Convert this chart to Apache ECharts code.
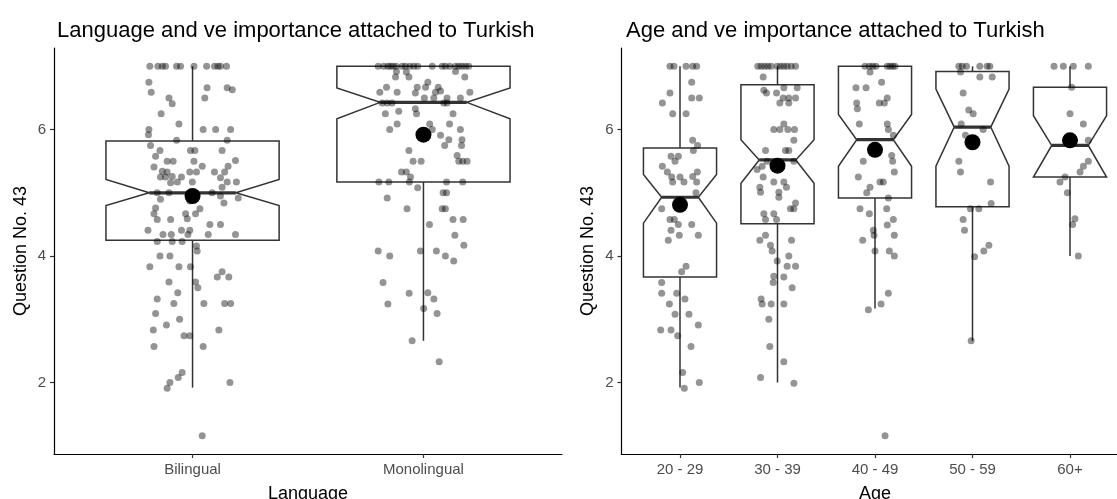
<!DOCTYPE html>
<html><head><meta charset="utf-8">
<script src="https://cdn.jsdelivr.net/npm/echarts@6/dist/echarts.min.js"></script>
<style>html,body{margin:0;padding:0;background:#fff;}#chart{width:1117px;height:499px;}</style>
</head><body><div id="chart"></div>
<script>
const languageCategories = ['Bilingual', 'Monolingual'];
const ageCategories = ['20 - 29', '30 - 39', '40 - 49', '50 - 59', '60+'];
const yTicks = [2, 4, 6];
const leftTitle = 'Language and ve importance attached to Turkish';
const rightTitle = 'Age and ve importance attached to Turkish';
const yName = 'Question No. 43';
const leftXName = 'Language';
const rightXName = 'Age';

// [lowerWhisker, Q1, notchLower, median, notchUpper, Q3, upperWhisker]
const languageBoxStats = [
  [1.92, 4.25, 4.80, 5.00, 5.21, 5.82, 7.00],
  [2.66, 5.17, 6.17, 6.43, 6.66, 7.00, 7.00]
];
const languageMeans = [4.95, 5.92];
const ageBoxStats = [
  [1.92, 3.67, 4.52, 4.93, 5.29, 5.71, 7.00],
  [2.00, 4.51, 5.15, 5.52, 5.84, 6.71, 7.00],
  [3.17, 4.92, 5.42, 5.84, 6.24, 7.00, 7.00],
  [2.66, 4.78, 5.42, 6.04, 6.64, 6.92, 7.00],
  [4.00, 5.25, 5.25, 5.75, 6.22, 6.67, 7.00]
];
const ageMeans = [4.81, 5.43, 5.68, 5.80, 5.83];

// jittered observations: [horizontal jitter (category units), value]
const bilingualPoints = [
  [-0.185,7],[-0.150,7],[-0.131,7],[-0.117,7],[-0.069,7],[-0.052,7],[0.006,7],[0.061,7],[0.095,7],[0.110,7],[0.121,7],[0.147,7],
  [-0.189,6.75],[-0.179,6.59],[-0.102,6.50],[-0.088,6.41],[-0.136,6.25],[0.063,6.66],[0.150,6.66],[0.172,6.63],[0.053,6.50],
  [-0.059,6.09],[-0.189,6.00],[-0.191,5.92],[0.046,6.00],[0.100,6.00],[0.165,6.00],[-0.069,5.83],[0.150,5.83],[-0.182,5.75],
  [-0.141,5.67],[-0.009,5.67],[0.010,5.67],[0.128,5.67],[-0.160,5.58],[-0.110,5.50],[-0.084,5.50],[0.006,5.50],[0.186,5.51],
  [-0.167,5.41],[0.042,5.42],[0.154,5.42],[-0.131,5.34],[-0.110,5.33],[-0.012,5.33],[0.017,5.33],[0.095,5.33],[0.139,5.33],
  [-0.139,5.25],[-0.117,5.25],[-0.088,5.26],[-0.048,5.25],[-0.066,5.17],[-0.095,5.16],[-0.001,5.17],[0.121,5.24],[0.150,5.17],
  [0.190,5.17],[0.128,5.09],[-0.153,5.00],[-0.102,5.00],[0.085,5.00],[0.121,4.95],[0.198,4.92],[-0.139,4.90],[0.136,4.84],
  [-0.012,4.87],[-0.160,4.76],[-0.167,4.67],[-0.030,4.67],[0.013,4.67],[0.032,4.75],[-0.153,4.58],[-0.095,4.58],[-0.023,4.59],
  [0.075,4.50],[0.121,4.50],[-0.193,4.41],[-0.128,4.34],[-0.092,4.34],[-0.048,4.41],[-0.012,4.41],[-0.020,4.34],[0.068,4.34],
  [0.186,4.34],[-0.153,4.23],[-0.088,4.23],[-0.045,4.23],[0.017,4.16],[0.020,4.08],[-0.141,4.00],[-0.098,4.00],[-0.185,3.83],
  [-0.059,3.83],[-0.009,3.83],[0.128,3.75],[0.107,3.67],[0.157,3.67],
  [-0.102,3.59],[-0.064,3.42],[0.013,3.59],[0.023,3.50],[-0.153,3.32],[-0.081,3.25],[0.049,3.25],[0.139,3.25],[0.165,3.25],
  [-0.160,3.09],[-0.056,3.00],[-0.113,2.91],[-0.170,2.83],[0.114,2.83],[-0.037,2.74],[-0.012,2.74],[-0.167,2.57],[0.046,2.57],
  [-0.045,2.16],[-0.062,2.08],[-0.098,2.00],[-0.110,1.91],[0.162,2.00],[0.042,1.16]
];
const monolingualPoints = [
  [-0.196,7],[-0.172,7],[-0.154,7],[-0.143,7],[-0.131,7],[-0.118,7],[-0.092,7],[-0.078,7],[-0.059,7],[-0.042,7],[-0.025,7],
  [0.038,7],[0.081,7],[0.095,7],[0.114,7],[0.139,7],[0.153,7],[0.167,7],[0.182,7],[0.196,7],
  [-0.117,6.92],[-0.074,6.91],[0.139,6.92],[-0.121,6.83],[-0.063,6.83],[0.179,6.83],[-0.160,6.67],[-0.189,6.59],[0.019,6.75],
  [0.009,6.67],[-0.027,6.67],[0.064,6.67],[0.074,6.61],[0.052,6.59],[0.045,6.50],[0.004,6.50],[-0.035,6.58],[-0.114,6.59],
  [0.201,6.59],[0.160,6.50],[0.102,6.50],[0.102,6.42],[0.088,6.42],[-0.179,6.42],[-0.157,6.42],[-0.136,6.42],[-0.035,6.33],
  [-0.107,6.29],[-0.165,6.25],[-0.030,6.25],[0.128,6.25],[-0.114,6.09],[-0.146,6.00],[0.027,6.09],[0.113,6.09],[0.160,6.00],
  [0.038,6.00],[0.074,5.91],[0.110,5.84],[0.167,5.84],[0.092,5.75],[0.165,5.75],[-0.063,5.67],[0.146,5.59],[-0.045,5.50],
  [-0.010,5.50],[0.153,5.50],[0.170,5.50],[0.189,5.50],[-0.095,5.33],[-0.074,5.33],[-0.056,5.25],[-0.193,5.17],[-0.150,5.17],
  [-0.061,5.17],[0.100,5.17],[0.170,5.17],[-0.025,5.08],[0.085,5.00],[0.100,5.00],[-0.157,4.92],[0.081,4.75],[0.095,4.75],
  [-0.071,4.75],[0.026,4.50],[0.128,4.58],[0.172,4.58],[0.136,4.33],[0.175,4.17],[-0.196,4.08],[-0.146,4.00],[-0.013,4.08],
  [0.056,4.08],[0.095,4.00],[0.131,3.92],
  [-0.175,3.58],[-0.062,3.41],[0.019,3.42],[0.045,3.32],[-0.154,3.24],[0.001,3.17],[0.059,3.09],[-0.049,2.66],[0.068,2.33]
];
const age2029Points = [
  [-0.103,7],[-0.062,7],[0.062,7],[0.130,7],[0.171,7],
  [0.120,6.75],[-0.103,6.58],[-0.181,6.42],[0.120,6.50],[0.198,6.50],[-0.075,6.25],[0.062,6.25],[0.130,5.83],[0.181,5.75],
  [0.137,5.67],[-0.092,5.58],[-0.017,5.58],[-0.051,5.50],[-0.181,5.42],[-0.130,5.33],[0.178,5.33],[-0.085,5.25],[0,5.25],
  [0.130,5.26],[-0.075,5.17],[0.041,5.17],[0.171,5.17],[0.164,5.00],[-0.188,4.75],[-0.103,4.58],[-0.058,4.58],[-0.017,4.50],
  [0.120,4.50],[-0.092,4.41],[0.188,4.33],[-0.007,4.33],[-0.120,4.25],[0.062,3.84],[0.017,3.75],
  [-0.188,3.58],[-0.188,3.41],[-0.034,3.41],[0.051,3.32],[-0.109,3.24],[-0.051,3.08],[0.092,3.08],[-0.198,2.83],[-0.092,2.83],
  [-0.024,2.74],[0.188,2.91],[0.113,2.57],[0.027,2.16],[0.044,1.91],[0.198,2.00]
];
const age3039Points = [
  [-0.202,7],[-0.168,7],[-0.133,7],[-0.099,7],[-0.065,7],[-0.003,7],[0.031,7],[0.065,7],[0.099,7],[0.140,7],[0.185,7],
  [-0.147,6.83],[-0.140,6.62],[-0.113,6.58],[-0.010,6.58],[0.065,6.66],[0.202,6.66],[0.058,6.50],[0.116,6.50],[0.185,6.50],
  [0.024,6.42],[0.116,6.42],[0.065,6.09],[-0.038,6.00],[0.024,6.00],[0.106,6.00],[0.174,6.00],[0.168,5.83],[-0.123,5.67],
  [0.082,5.67],[0.116,5.67],[-0.106,5.50],[0.168,5.50],[-0.157,5.42],[-0.209,5.37],[-0.147,5.25],[-0.181,5.09],[-0.038,5.17],
  [0.065,5.17],[0.092,5.09],[-0.174,5.01],[0.014,5.01],[0.014,4.93],[0.185,4.84],[0.133,4.75],[0.168,4.75],[-0.140,4.67],
  [-0.038,4.67],[-0.123,4.58],[-0.010,4.58],[-0.123,4.33],[0.144,4.25],[-0.181,4.25],[-0.072,4.17],[-0.055,4.08],[0.116,4.00],
  [-0.003,3.92],[0.099,3.84],[0.185,3.84],[-0.038,3.68],[0.065,3.67],
  [-0.044,3.58],[0.150,3.50],[-0.168,3.32],[-0.157,3.24],[-0.065,3.24],[0.065,3.24],[-0.089,3.00],[-0.079,2.57],[0.065,2.33],
  [-0.174,2.08],[0.168,1.99]
];
const age4049Points = [
  [-0.103,7],[-0.058,7],[-0.024,7],[0.010,7],[0.126,7],[0.154,7],[0.181,7],[0.205,7],
  [-0.051,6.91],[-0.195,6.66],[-0.092,6.66],[0.068,6.75],[-0.188,6.42],[-0.181,6.33],[0.044,6.42],[0.096,6.42],[0.126,6.50],
  [-0.161,6.09],[0.126,6.09],[0.137,6.00],[0.188,5.91],[-0.120,5.50],[0.171,5.59],[0.181,5.50],[0.198,5.33],[-0.171,5.25],
  [-0.051,5.09],[0.051,5.17],[0.085,5.17],[-0.085,5.00],[0.137,4.92],[-0.154,4.75],[-0.058,4.67],[0.120,4.75],[0.188,4.58],
  [0.126,4.49],[-0.017,4.41],[-0.010,4.33],[0.198,4.33],[-0.126,4.25],[0,4.08],[0.147,4.08],[0.198,4.00],
  [-0.068,3.15],[0.062,3.24],[0.137,3.41],[0.103,1.16]
];
const age5059Points = [
  [-0.140,7],[-0.106,7],[-0.062,7],[0.075,7],[0.150,7],[0.178,7],
  [-0.123,6.91],[0.075,6.83],[0.202,6.83],[-0.096,6.58],[-0.038,6.31],[0.007,6.25],[-0.116,6.09],[0.109,6.00],[-0.072,5.91],
  [-0.140,5.50],[-0.123,5.33],[0.185,5.17],[0.191,4.83],[-0.021,4.75],[0.065,4.75],[-0.096,4.58],[-0.082,4.41],[0.168,4.17],
  [0.116,4.08],[0.021,3.99],[-0.014,2.66]
];
const age60Points = [
  [-0.164,7],[-0.068,7],[0.034,7],[0.188,7],
  [0.017,6.67],[0,6.25],[0.137,6.09],[0.188,5.83],[0.188,5.50],[0.137,5.42],[0.103,5.33],[-0.051,5.25],[-0.103,5.17],
  [-0.027,5.00],[0.051,4.59],[0.027,4.50],[0.085,4.00]
];
const languagePoints = [bilingualPoints, monolingualPoints];
const agePoints = [age2029Points, age3039Points, age4049Points, age5059Points, age60Points];

const FONT = 'Liberation Sans, Arial, Helvetica, sans-serif';
const STROKE = '#333333';

function renderBox(params, api) {
  const c = api.value(0);
  const lw = api.value(1), q1 = api.value(2), nlo = api.value(3), med = api.value(4),
        nhi = api.value(5), q3 = api.value(6), hw = api.value(7);
  const half = 0.375, inset = 0.1875;
  const P = (x, y) => api.coord([x, y]);
  const l = c - half, r = c + half;
  const pts = [P(l,q3), P(l,nhi), P(l+inset,med), P(l,nlo), P(l,q1), P(r,q1), P(r,nlo), P(r-inset,med), P(r,nhi), P(r,q3)];
  const a = P(c,q3), b = P(c,hw), d = P(c,q1), e = P(c,lw), m1 = P(l+inset,med), m2 = P(r-inset,med);
  return {type:'group', children:[
    {type:'line', shape:{x1:a[0],y1:a[1],x2:b[0],y2:b[1]}, style:{stroke:STROKE, lineWidth:1.5}},
    {type:'line', shape:{x1:d[0],y1:d[1],x2:e[0],y2:e[1]}, style:{stroke:STROKE, lineWidth:1.5}},
    {type:'polygon', shape:{points:pts}, style:{fill:'#ffffff', stroke:STROKE, lineWidth:1.5}},
    {type:'line', shape:{x1:m1[0],y1:m1[1],x2:m2[0],y2:m2[1]}, style:{stroke:STROKE, lineWidth:3.2}}
  ]};
}

function panelSeries(idx, stats, means, pointsList) {
  return [
    {type:'custom', xAxisIndex:idx, yAxisIndex:idx, z:1, renderItem:renderBox, clip:false,
     encode:{x:0, y:[1,2,3,4,5,6,7]},
     data: stats.map((s, i) => [i].concat(s))},
    {type:'scatter', xAxisIndex:idx, yAxisIndex:idx, z:2, symbolSize:7, silent:true,
     itemStyle:{color:'rgba(0,0,0,0.42)', opacity:1},
     data: pointsList.flatMap((pts, i) => pts.map(p => [i + p[0], p[1]]))},
    {type:'scatter', xAxisIndex:idx, yAxisIndex:idx, z:3, symbolSize:16, silent:true,
     itemStyle:{color:'#000000', opacity:1},
     data: means.map((m, i) => [i, m])}
  ];
}

function xAxisFor(idx, cats, name) {
  const vals = cats.map((_, i) => i);
  return {type:'value', gridIndex:idx, min:-0.6, max:cats.length - 0.4,
    name:name, nameLocation:'middle', nameGap:31,
    nameTextStyle:{fontSize:18, color:'#000', fontFamily:FONT},
    axisLine:{onZero:false, lineStyle:{color:'#000', width:1.2}},
    axisTick:{customValues:vals, length:4, lineStyle:{color:STROKE, width:1.2}},
    axisLabel:{customValues:vals, margin:8, fontSize:15, color:'#4d4d4d', fontFamily:FONT,
      formatter:(v) => cats[Math.round(v)]},
    splitLine:{show:false}};
}
function yAxisFor(idx) {
  return {type:'value', gridIndex:idx, min:0.87, max:7.29,
    name:yName, nameLocation:'middle', nameGap:24,
    nameTextStyle:{fontSize:18, color:'#000', fontFamily:FONT},
    axisLine:{show:true, onZero:false, lineStyle:{color:'#000', width:1.2}},
    axisTick:{show:true, customValues:yTicks, length:4, lineStyle:{color:STROKE, width:1.2}},
    axisLabel:{customValues:yTicks, margin:8, fontSize:15, color:'#4d4d4d', fontFamily:FONT},
    splitLine:{show:false}};
}

const chart = echarts.init(document.getElementById('chart'), null, {renderer:'canvas'});
chart.setOption({
  animation:false,
  backgroundColor:'#ffffff',
  title:[
    {text:leftTitle, left:52, top:15, textStyle:{fontSize:22, fontWeight:'normal', color:'#000', fontFamily:FONT}},
    {text:rightTitle, left:621, top:15, textStyle:{fontSize:22, fontWeight:'normal', color:'#000', fontFamily:FONT}}
  ],
  grid:[
    {left:54, width:508, top:48, height:406, outerBoundsMode:'none', containLabel:false},
    {left:621.5, width:507, top:48, height:406, outerBoundsMode:'none', containLabel:false}
  ],
  xAxis:[xAxisFor(0, languageCategories, leftXName), xAxisFor(1, ageCategories, rightXName)],
  yAxis:[yAxisFor(0), yAxisFor(1)],
  series:[].concat(
    panelSeries(0, languageBoxStats, languageMeans, languagePoints),
    panelSeries(1, ageBoxStats, ageMeans, agePoints))
});
</script></body></html>
